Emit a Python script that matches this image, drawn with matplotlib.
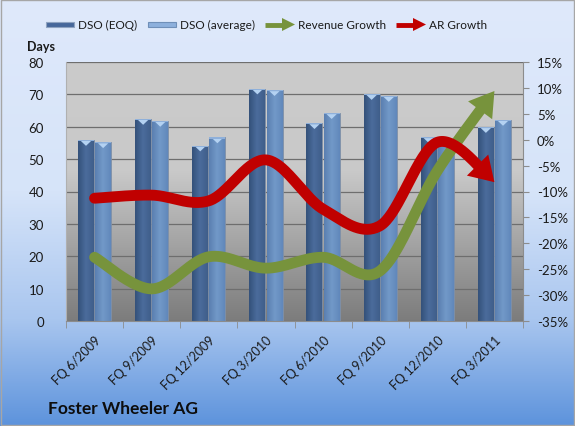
import numpy as np
import matplotlib
matplotlib.use("Agg")
import matplotlib.pyplot as plt
from matplotlib.patches import Polygon, Rectangle
from matplotlib.colors import LinearSegmentedColormap
from matplotlib.ticker import FuncFormatter

plt.rcParams["font.family"] = ["Lato", "DejaVu Sans"]

# ------------------------------------------------------------------ #
#  Data                                                              #
# ------------------------------------------------------------------ #
quarters = ["FQ 6/2009", "FQ 9/2009", "FQ 12/2009", "FQ 3/2010",
            "FQ 6/2010", "FQ 9/2010", "FQ 12/2010", "FQ 3/2011"]
dso_eoq = [55.9, 62.4, 54.2, 71.8, 61.1, 70.1, 56.8, 59.9]
dso_avg = [55.2, 61.8, 56.7, 71.3, 64.2, 69.5, 56.5, 62.1]
revenue_growth = [-22.7, -28.8, -22.6, -24.8, -22.7, -25.3, -6.0, 9.4]
ar_growth = [-11.3, -10.7, -11.8, -3.9, -13.4, -16.6, -0.5, -8.2]

W, H, DPI = 575, 427, 100
C_EOQ = "#46679a"
C_AVG = "#6f94c3"
C_GREEN = "#77933c"
C_RED = "#c00000"


def smooth(pts, n=40):
    """Excel-like smoothed line (Catmull-Rom Bezier) through display points."""
    p = np.vstack([pts[0], pts, pts[-1]])
    out = []
    for i in range(1, len(p) - 2):
        p0, p1, p2, p3 = p[i - 1], p[i], p[i + 1], p[i + 2]
        c1 = p1 + (p2 - p0) / 6
        c2 = p2 - (p3 - p1) / 6
        t = np.linspace(0, 1, n)[:, None]
        seg = ((1 - t) ** 3) * p1 + 3 * ((1 - t) ** 2) * t * c1 \
            + 3 * (1 - t) * t ** 2 * c2 + t ** 3 * p2
        out.append(seg if i == 1 else seg[1:])
    return np.vstack(out)


def arrow_line(ax, values, color, lw=7.8, head_len=24, head_w=30):
    x = np.arange(len(values))
    disp = ax.transData.transform(np.column_stack([x, values]))
    curve = smooth(disp)
    tip = curve[-1]
    dist = np.hypot(*(curve - tip).T)
    cut = np.where(dist > head_len * 0.8)[0][-1]
    body = ax.transData.inverted().transform(curve[:cut + 1])
    ax.plot(body[:, 0], body[:, 1], color=color, lw=lw,
            solid_capstyle="round", zorder=5)
    base = curve[np.where(dist > head_len)[0][-1]]
    d = (tip - base) / np.hypot(*(tip - base))
    nrm = np.array([-d[1], d[0]])
    bp = tip - d * head_len
    head = np.array([tip, bp + nrm * head_w / 2, bp - nrm * head_w / 2])
    head = ax.transData.inverted().transform(head)
    ax.add_patch(Polygon(head, closed=True, color=color, lw=0, zorder=6))


fig = plt.figure(figsize=(W / DPI, H / DPI), dpi=DPI)

# figure background gradient
bg = fig.add_axes([0, 0, 1, 1], zorder=-10)
bg_cmap = LinearSegmentedColormap.from_list(
    "bg", [(0, "#dfe9fb"), (0.45, "#d6e4f9"), (0.75, "#a9c6ef"), (1, "#5d93dc")])
bg.imshow(np.linspace(0, 1, 256)[:, None], aspect="auto", cmap=bg_cmap,
          extent=[0, W, H, 0])
bg.set_xlim(0, W)
bg.set_ylim(H, 0)
bg.axis("off")
bg.add_patch(Rectangle((1, 1), W - 2, H - 2, fill=False, ec="#a6a6a6", lw=1))

ax = fig.add_axes([66 / W, 1 - 322 / H, (523 - 66) / W, (322 - 63) / H])
ax2 = ax.twinx()

ax.set_xlim(-0.5, len(quarters) - 0.5)
ax.set_ylim(0, 80)
ax2.set_ylim(-35, 15)

# plot area gradient
pa_cmap = LinearSegmentedColormap.from_list(
    "pa", [(0, "#cbcbcb"), (0.42, "#c9c9c9"), (1, "#7c7c7c")])
ax.imshow(np.linspace(0, 1, 256)[:, None], aspect="auto", cmap=pa_cmap,
          extent=[-0.5, len(quarters) - 0.5, 0, 80], zorder=0)
ax.set_yticks(np.arange(0, 81, 10))
ax.grid(axis="y", color="#6e6e6e", lw=0.9, zorder=1)
ax.set_axisbelow(True)

x = np.arange(len(quarters))
bw, off = 0.28, 0.15
bar_cmaps = {
    C_EOQ: LinearSegmentedColormap.from_list("e", ["#34517a", "#4b6c9c", "#3f5e8a"]),
    C_AVG: LinearSegmentedColormap.from_list("a", ["#5a7fb0", "#7299c8", "#6188bb"]),
}
for vals, dx, col in [(dso_eoq, -off, C_EOQ), (dso_avg, off, C_AVG)]:
    bars = ax.bar(x + dx, vals, bw, color=col, ec="#7f8fa6", lw=0.6, zorder=2)
    for b in bars:
        bx, bwid, bh = b.get_x(), b.get_width(), b.get_height()
        im = ax.imshow(np.linspace(0, 1, 64)[None, :], aspect="auto",
                       cmap=bar_cmaps[col], extent=[bx, bx + bwid, 0, bh], zorder=2)
        im.set_clip_path(b)
        ax.add_patch(Polygon([(bx + bwid * 0.18, bh - 0.3), (bx + bwid * 0.82, bh - 0.3),
                              (bx + bwid * 0.5, bh - 1.8)],
                             closed=True, color="#b4d2f2", lw=0, zorder=3))
        ax.add_patch(Rectangle((bx, bh - 0.35), bwid, 0.35, color="#8fb0da",
                               lw=0, zorder=3))

ax2.set_zorder(ax.get_zorder() + 1)
arrow_line(ax2, revenue_growth, C_GREEN)
arrow_line(ax2, ar_growth, C_RED)

# axes styling
ax.set_xticks(x)
ax.set_xticklabels(quarters, rotation=45, ha="right", rotation_mode="anchor",
                   fontsize=9, color="#1a1a1a")
ax.set_xticks(np.arange(-0.5, len(quarters)), minor=True)
ax.tick_params(axis="x", which="major", length=0, pad=9)
ax.tick_params(axis="x", which="minor", length=5, color="#8c8c8c")
ax.tick_params(axis="y", length=0, pad=16, labelsize=9.5, labelcolor="#1a1a1a")
ax2.set_yticks(np.arange(-35, 16, 5))
ax2.yaxis.set_major_formatter(FuncFormatter(lambda v, _: f"{v:.0f}%"))
ax2.tick_params(axis="y", length=4, color="#8c8c8c", pad=6, labelsize=9.5,
                labelcolor="#1a1a1a")
for a in (ax, ax2):
    for s in a.spines.values():
        s.set_visible(False)
ax.spines["bottom"].set_visible(True)
ax.spines["bottom"].set_color("#8c8c8c")
ax.spines["left"].set_visible(True)
ax.spines["left"].set_color("#b0b0b0")
ax2.spines["right"].set_visible(True)
ax2.spines["right"].set_color("#8c8c8c")

# legend (drawn on an overlay axes in pixel units)
lg = fig.add_axes([0, 0, 1, 1], zorder=20)
lg.set_xlim(0, W)
lg.set_ylim(H, 0)
lg.axis("off")
lg.add_patch(Rectangle((46, 23), 28, 5, fc=C_EOQ, ec="#8fa3c0", lw=0.8))
lg.text(78, 25.5, "DSO (EOQ)", fontsize=8.5, va="center", color="#1a1a1a")
lg.add_patch(Rectangle((148, 23), 28, 5, fc="#8db0dc", ec="#6f8fb8", lw=0.8))
lg.text(180, 25.5, "DSO (average)", fontsize=8.5, va="center", color="#1a1a1a")
for x0, col, label in [(265, C_GREEN, "Revenue Growth"), (396, C_RED, "AR Growth")]:
    lg.plot([x0, x0 + 18], [25.5, 25.5], color=col, lw=3.5, solid_capstyle="butt")
    lg.add_patch(Polygon([(x0 + 30, 25.5), (x0 + 17, 19), (x0 + 17, 32)],
                         closed=True, color=col, lw=0))
    lg.text(x0 + 33, 25.5, label, fontsize=8.5, va="center", color="#1a1a1a")

lg.text(27, 47, "Days", fontsize=9, fontweight="bold", va="center", color="#1a1a1a")
lg.text(48, 409, "Foster Wheeler AG", fontsize=12.5, fontweight="bold",
        va="center", color="#0d0d0d")

fig.savefig("out.png", dpi=DPI)
